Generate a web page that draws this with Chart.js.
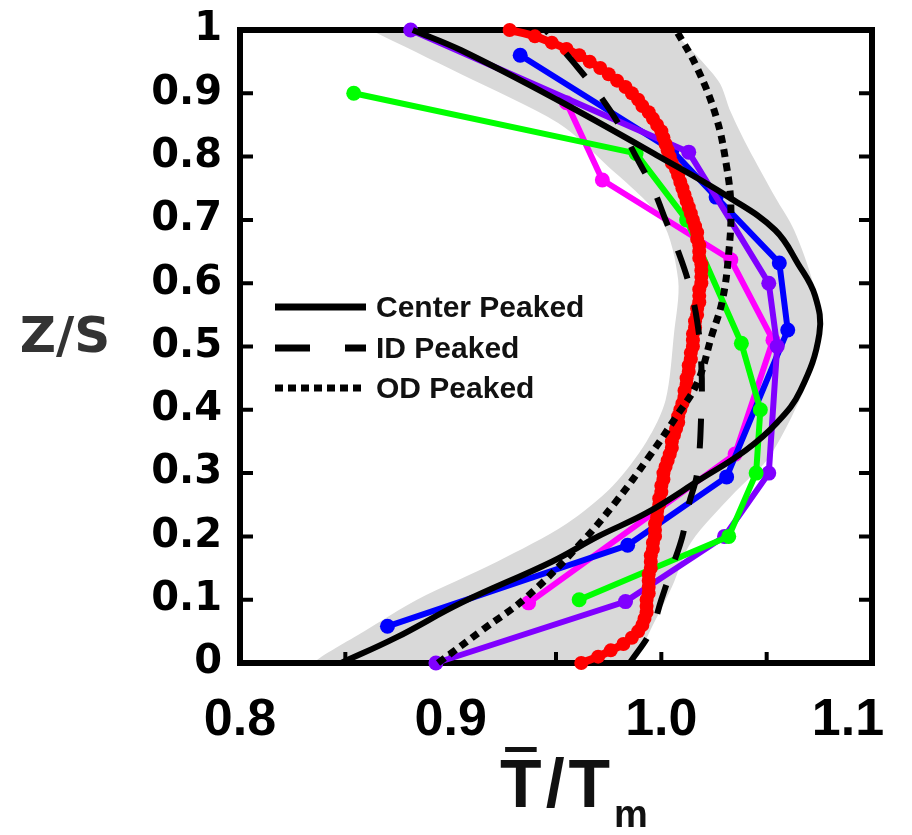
<!DOCTYPE html>
<html>
<head>
<meta charset="utf-8">
<script src="https://cdn.jsdelivr.net/npm/chart.js@4.4.1/dist/chart.umd.min.js"></script>
<style>
html, body { margin: 0; padding: 0; background: #fff; }
#wrap { width: 912px; height: 835px; }
</style>
</head>
<body>
<div id="wrap"><canvas id="myChart" width="912" height="835"></canvas></div>
<script>
// tick labels
const xTickVals = [0.8, 0.9, 1.0, 1.1];
const xMinorVals = [0.85, 0.9, 0.95, 1.0, 1.05];
const yTickVals = [0, 0.1, 0.2, 0.3, 0.4, 0.5, 0.6, 0.7, 0.8, 0.9, 1];

// model profiles (x = T/Tm, y = Z/S)
const centerY = [0, 0.04, 0.095, 0.16, 0.2, 0.237, 0.289, 0.336, 0.38, 0.43, 0.52, 0.58, 0.63, 0.684, 0.736, 0.8, 0.889, 0.968, 1.0];
const centerX = [0.848, 0.874, 0.905, 0.948, 0.970, 0.993, 1.018, 1.040, 1.055, 1.066, 1.075, 1.073, 1.065, 1.054, 1.032, 0.999, 0.951, 0.905, 0.882];
const idY = [0, 0.05, 0.1, 0.15, 0.2, 0.25, 0.3, 0.4, 0.47, 0.54, 0.6, 0.65, 0.7, 0.75, 0.8, 0.85, 0.9, 0.95, 1.0];
const idX = [0.985, 0.995, 1.0, 1.005, 1.01, 1.013, 1.017, 1.019, 1.019, 1.017, 1.013, 1.008, 1.002, 0.996, 0.988, 0.98, 0.97, 0.958, 0.945];
const odY = [0, 0.052, 0.104, 0.19, 0.253, 0.325, 0.389, 0.442, 0.518, 0.573, 0.648, 0.72, 0.784, 0.863, 0.94, 1.0];
const odX = [0.894, 0.915, 0.936, 0.962, 0.978, 0.994, 1.007, 1.017, 1.024, 1.029, 1.032, 1.033, 1.031, 1.026, 1.017, 1.007];

// measured profiles
const redY = [0, 0.01, 0.02, 0.03, 0.04, 0.05, 0.06, 0.07, 0.08, 0.09,
    0.1, 0.11, 0.12, 0.13, 0.14, 0.15, 0.16, 0.17, 0.18, 0.19,
    0.2, 0.21, 0.22, 0.23, 0.24, 0.25, 0.26, 0.27, 0.28, 0.29,
    0.3, 0.31, 0.32, 0.33, 0.34, 0.35, 0.36, 0.37, 0.38, 0.39,
    0.4, 0.41, 0.42, 0.43, 0.44, 0.45, 0.46, 0.47, 0.48, 0.49,
    0.5, 0.51, 0.52, 0.53, 0.54, 0.55, 0.56, 0.57, 0.58, 0.59,
    0.6, 0.61, 0.62, 0.63, 0.64, 0.65, 0.66, 0.67, 0.68, 0.69,
    0.7, 0.71, 0.72, 0.73, 0.74, 0.75, 0.76, 0.77, 0.78, 0.79,
    0.8, 0.81, 0.82, 0.83, 0.84, 0.85, 0.86, 0.87, 0.88, 0.89,
    0.9, 0.91, 0.92, 0.93, 0.94, 0.95, 0.96, 0.97, 0.98, 0.99, 1.0];
const redX = [0.962, 0.970, 0.976, 0.982, 0.986, 0.989, 0.991, 0.992, 0.993, 0.993,
    0.993, 0.994, 0.994, 0.994, 0.994, 0.995, 0.995, 0.995, 0.996, 0.996,
    0.997, 0.997, 0.997, 0.998, 0.998, 0.999, 0.999, 1.000, 1.000, 1.001,
    1.001, 1.002, 1.003, 1.004, 1.005, 1.005, 1.006, 1.007, 1.008, 1.008,
    1.009, 1.010, 1.011, 1.011, 1.012, 1.012, 1.013, 1.013, 1.014, 1.014,
    1.015, 1.015, 1.015, 1.016, 1.016, 1.017, 1.017, 1.018, 1.018, 1.018,
    1.019, 1.019, 1.019, 1.019, 1.018, 1.018, 1.018, 1.017, 1.017, 1.016,
    1.015, 1.014, 1.013, 1.012, 1.011, 1.010, 1.009, 1.008, 1.007, 1.005,
    1.004, 1.003, 1.002, 1.001, 1.000, 0.998, 0.996, 0.994, 0.991, 0.989,
    0.986, 0.983, 0.979, 0.975, 0.971, 0.966, 0.961, 0.955, 0.948, 0.940, 0.928];
const blueY = [0.058, 0.186, 0.294, 0.526, 0.632, 0.736, 0.81, 0.96];
const blueX = [0.870, 0.984, 1.031, 1.060, 1.056, 1.026, 1.005, 0.933];
const greenY = [0.1, 0.2, 0.3, 0.4, 0.505, 0.7, 0.805, 0.9];
const greenX = [0.961, 1.032, 1.045, 1.047, 1.038, 1.012, 0.988, 0.854];
const magentaY = [0.095, 0.33, 0.51, 0.637, 0.763, 0.885];
const magentaX = [0.937, 1.035, 1.053, 1.033, 0.972, 0.955];
const purpleY = [0, 0.097, 0.2, 0.3, 0.5, 0.6, 0.807, 1.0];
const purpleX = [0.893, 0.983, 1.03, 1.051, 1.055, 1.051, 1.013, 0.881];

// grey envelope: left edge top -> bottom, then right edge bottom -> top
const bandLeftY = [1.0, 0.93, 0.853, 0.79, 0.70, 0.605, 0.52, 0.415, 0.35, 0.28, 0.22, 0.16, 0.1, 0.05, 0, 0];
const bandLeftX = [0.862, 0.905, 0.951, 0.973, 1.0, 1.008, 1.006, 1.002, 0.993, 0.977, 0.955, 0.922, 0.884, 0.859, 0.835, 0.845];
const bandRightY = [0, 0, 0.06, 0.12, 0.19, 0.27, 0.32, 0.39, 0.46, 0.53, 0.60, 0.684, 0.736, 0.815, 0.87, 0.92, 1.0];
const bandRightX = [0.976, 0.986, 0.996, 1.005, 1.014, 1.035, 1.05, 1.062, 1.071, 1.075, 1.072, 1.063, 1.054, 1.041, 1.033, 1.027, 1.005];

// wanted plot box in page pixels
const boxLeft = 240, boxTop = 30, boxRight = 872, boxBottom = 663;

const pts = (xs, ys) => xs.map((x, i) => ({x: x, y: ys[i]}));

const marked = (data, color, order) => ({
    data: data,
    borderColor: color,
    backgroundColor: color,
    borderWidth: 6,
    pointRadius: 7.5,
    pointBorderWidth: 0,
    pointBackgroundColor: color,
    tension: 0,
    clip: false,
    order: order
});

const framePlugin = {
    id: 'frame',
    beforeDraw(chart) {
        // the figure pulls its last x label ("1.1") in from the edge
        const items = chart.scales.x.getLabelItems();
        const last = items[items.length - 1];
        if (last && !last._nudged) {
            last.options.translation[0] -= 24;
            last._nudged = true;
        }
    },
    afterDatasetDraw(chart, args) {
        if (args.index !== 0) return; // right after the grey band
        const {ctx, chartArea: a, scales: {x, y}} = chart;
        ctx.save();
        ctx.strokeStyle = '#000';
        ctx.lineWidth = 6;
        ctx.strokeRect(a.left, a.top, a.right - a.left, a.bottom - a.top);
        ctx.lineWidth = 4;
        ctx.beginPath();
        yTickVals.forEach(v => {
            if (v <= 0 || v >= 1) return;
            const py = y.getPixelForValue(v);
            ctx.moveTo(a.left, py); ctx.lineTo(a.left + 13, py);
            ctx.moveTo(a.right, py); ctx.lineTo(a.right - 13, py);
        });
        xMinorVals.forEach(v => {
            const px = x.getPixelForValue(v);
            ctx.moveTo(px, a.bottom); ctx.lineTo(px, a.bottom - 11);
        });
        ctx.stroke();
        ctx.restore();
    },
    afterDraw(chart) {
        const ctx = chart.ctx;
        ctx.save();
        // legend
        ctx.strokeStyle = '#000';
        ctx.lineCap = 'butt';
        ctx.lineWidth = 7;
        ctx.setLineDash([]);
        ctx.beginPath(); ctx.moveTo(275, 307); ctx.lineTo(366, 307); ctx.stroke();
        ctx.setLineDash([35, 35]);
        ctx.beginPath(); ctx.moveTo(275, 348); ctx.lineTo(366, 348); ctx.stroke();
        ctx.setLineDash([8, 5]);
        ctx.beginPath(); ctx.moveTo(275, 388); ctx.lineTo(366, 388); ctx.stroke();
        ctx.setLineDash([]);
        ctx.fillStyle = '#111';
        ctx.font = 'bold 30px "Liberation Sans", Arial, sans-serif';
        ctx.textBaseline = 'middle';
        ctx.textAlign = 'left';
        ctx.fillText('Center Peaked', 376, 309);
        ctx.fillText('ID Peaked', 376, 350);
        ctx.fillText('OD Peaked', 376, 390);

        // y title
        ctx.fillStyle = '#333';
        ctx.font = 'bold 50px "DejaVu Sans", sans-serif';
        ctx.textAlign = 'center';
        ctx.fillText('Z/S', 65, 339);

        // x title: T-bar / T_m
        ctx.fillStyle = '#111';
        ctx.textAlign = 'left';
        ctx.textBaseline = 'alphabetic';
        const big = 'bold 68px "Liberation Sans", Arial, sans-serif';
        const small = 'bold 38px "Liberation Sans", Arial, sans-serif';
        const gap = 4;
        ctx.font = big;
        const wT = ctx.measureText('T').width;
        const wS = ctx.measureText('/').width;
        ctx.font = small;
        const wm = ctx.measureText('m').width;
        const total = wT * 2 + wS + wm + gap * 3;
        let px = 574 - total / 2;
        const base = 807;
        ctx.font = big;
        ctx.fillText('T', px, base);
        ctx.fillRect(px + wT * 0.12, base - 60, wT * 0.76, 5);
        px += wT + gap;
        ctx.fillText('/', px, base);
        px += wS + gap;
        ctx.fillText('T', px, base);
        px += wT + gap;
        ctx.font = small;
        ctx.fillText('m', px, base + 20);
        ctx.restore();
    }
};

const pad = {top: boxTop, right: 912 - boxRight, left: 0, bottom: 0};

const myCtx = document.getElementById('myChart').getContext('2d');
const myChart = new Chart(myCtx, {
    type: 'scatter',
    data: {
        datasets: [
            {
                data: pts(bandLeftX.concat(bandRightX), bandLeftY.concat(bandRightY)),
                showLine: true,
                fill: 'shape',
                backgroundColor: '#d9d9d9',
                borderWidth: 0,
                pointRadius: 0,
                tension: 0.3,
                order: 20
            },
            marked(pts(magentaX, magentaY), '#ff00ff', 9),
            marked(pts(blueX, blueY), '#0000ff', 8),
            marked(pts(purpleX, purpleY), '#8000ff', 7),
            marked(pts(greenX, greenY), '#00ff00', 6),
            {
                data: pts(redX, redY),
                borderColor: '#ff0000',
                borderWidth: 8,
                pointRadius: 7,
                pointBorderWidth: 0,
                pointBackgroundColor: '#ff0000',
                tension: 0.3,
                clip: false,
                order: 5
            },
            {
                data: pts(odX, odY),
                borderColor: '#000',
                borderWidth: 7,
                borderDash: [8, 6],
                pointRadius: 0,
                tension: 0.4,
                clip: false,
                order: 3
            },
            {
                data: pts(idX, idY),
                borderColor: '#000',
                borderWidth: 6,
                borderDash: [30, 27],
                pointRadius: 0,
                tension: 0.4,
                clip: false,
                order: 2
            },
            {
                data: pts(centerX, centerY),
                borderColor: '#000',
                borderWidth: 6,
                pointRadius: 0,
                tension: 0.4,
                clip: false,
                order: 1
            }
        ].map(d => Object.assign({showLine: true}, d))
    },
    options: {
        responsive: false,
        animation: false,
        layout: {padding: pad},
        scales: {
            x: {
                type: 'linear',
                min: 0.8,
                max: 1.1,
                afterBuildTicks: s => { s.ticks = xTickVals.map(v => ({value: v})); },
                afterFit: s => {
                    s.height = 835 - boxBottom;
                    s.paddingLeft = 0; s.paddingRight = 0;
                },
                ticks: {
                    callback: v => Number(v).toFixed(1),
                    font: {family: '"Liberation Sans", Arial, sans-serif', size: 52, weight: 'bold'},
                    color: '#000',
                    padding: 26,
                    maxRotation: 0
                },
                grid: {display: false, drawTicks: false},
                border: {display: false}
            },
            y: {
                type: 'linear',
                min: 0,
                max: 1,
                afterBuildTicks: s => { s.ticks = yTickVals.map(v => ({value: v})); },
                afterFit: s => {
                    s.width = boxLeft;
                    s.paddingTop = 0; s.paddingBottom = 0;
                },
                ticks: {
                    callback: v => (v === 0 || v === 1) ? String(v) : Number(v).toFixed(1),
                    font: {family: '"DejaVu Sans", sans-serif', size: 40, weight: 'bold'},
                    color: '#000',
                    padding: 18
                },
                grid: {display: false, drawTicks: false},
                border: {display: false}
            }
        },
        plugins: {
            legend: {display: false},
            tooltip: {enabled: false}
        }
    },
    plugins: [framePlugin]
});

// nudge the layout padding until the plot box sits where the figure has it
for (let i = 0; i < 3; i++) {
    const a = myChart.chartArea;
    const dt = boxTop - a.top, dr = a.right - boxRight, dl = boxLeft - a.left, db = a.bottom - boxBottom;
    if (!dt && !dr && !dl && !db) break;
    pad.top += dt; pad.right += dr; pad.left += dl; pad.bottom += db;
    myChart.options.layout.padding = Object.assign({}, pad);
    myChart.update();
}
</script>
</body>
</html>
